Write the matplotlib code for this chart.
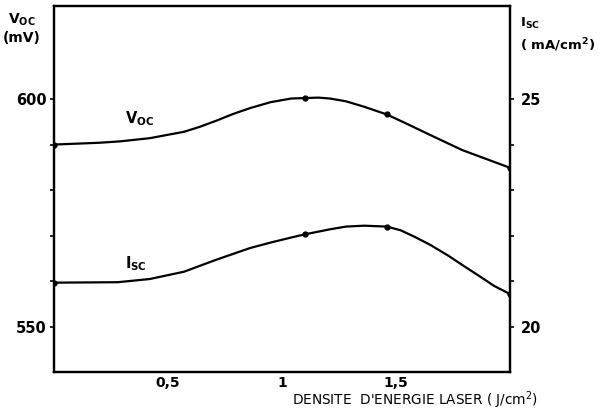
import matplotlib
matplotlib.use("Agg")
import matplotlib.pyplot as plt

# energy density (J/cm2)
voc_x = [0.0, 0.20, 0.29, 0.42, 0.57, 0.64, 0.71, 0.785, 0.86, 0.95, 1.04, 1.10, 1.16,
         1.21, 1.28, 1.36, 1.46, 1.55, 1.65, 1.79, 2.0]
voc = [590.0, 590.4, 590.7, 591.4, 592.8, 593.9, 595.2, 596.7, 598.0, 599.3, 600.1, 600.2,
       600.3, 600.1, 599.5, 598.3, 596.6, 594.5, 592.1, 588.8, 584.9]

isc_x = [0.0, 0.28, 0.42, 0.57, 0.64, 0.71, 0.785, 0.86, 0.95, 1.04, 1.10, 1.21, 1.28,
         1.36, 1.46, 1.52, 1.58, 1.65, 1.73, 1.79, 1.87, 1.93, 2.0]
isc = [20.97, 20.98, 21.05, 21.21, 21.34, 21.47, 21.60, 21.73, 21.85, 21.96, 22.03, 22.14,
       22.20, 22.22, 22.20, 22.12, 21.98, 21.80, 21.56, 21.36, 21.10, 20.90, 20.72]

# measured points (dots)
pts_x = [0.0, 1.10, 1.46, 2.0]
voc_pts = [590.0, 600.2, 596.6, 584.9]
isc_pts = [20.97, 22.03, 22.20, 20.72]

xticks = [0.5, 1.0, 1.5]
xticklabels = ["0,5", "1", "1,5"]

plt.rcParams['font.family'] = ['DejaVu Sans']
plt.rcParams['mathtext.default'] = 'regular'

fig = plt.figure(figsize=(6.1, 4.12), dpi=100)
ax = fig.add_axes([54 / 610, 40 / 412, 456 / 610, 366 / 412])
ax2 = ax.twinx()

ax.plot(voc_x, voc, color='black', lw=1.6, solid_joinstyle='round')
ax.plot(pts_x, voc_pts, 'o', color='black', ms=3.5)
ax2.plot(isc_x, isc, color='black', lw=1.6, solid_joinstyle='round')
ax2.plot(pts_x, isc_pts, 'o', color='black', ms=3.5)

ax.set_xlim(0, 2.0)
ax.set_ylim(540.1, 620.4)
ax2.set_ylim(19.01, 27.04)

ax.set_xticks(xticks)
ax.set_xticklabels(xticklabels, fontsize=10, fontweight='bold')
ax.tick_params(axis='x', length=0, pad=3)

ax.set_yticks([550, 600])
ax.set_yticklabels(["550", "600"], fontsize=10.5, fontweight='bold')
ax.set_yticks([560, 570, 580, 590], minor=True)
ax.tick_params(axis='y', which='both', direction='out', length=3, width=1.2, pad=2)

ax2.set_yticks([20, 25])
ax2.set_yticklabels(["20", "25"], fontsize=10.5, fontweight='bold')
ax2.set_yticks([21, 22, 23, 24], minor=True)
ax2.tick_params(axis='y', which='both', direction='out', length=3, width=1.2, pad=5)

for a in (ax, ax2):
    for s in a.spines.values():
        s.set_linewidth(1.6)

ax.text(0.31, 594.6, r'V$_{OC}$', fontsize=10.5, fontweight='bold')
ax.text(0.31, 562.8, r'I$_{SC}$', fontsize=10.5, fontweight='bold')

fig.text(22 / 610, 1 - 28 / 412, 'V$_{OC}$\n(mV)', fontsize=10, fontweight='bold',
         ha='center', va='center', linespacing=1.3)
fig.text(520 / 610, 1 - 35 / 412, 'I$_{SC}$\n( mA/cm$^2$)', fontsize=9.5, fontweight='bold',
         ha='left', va='center', multialignment='left', linespacing=1.4)
fig.text(292 / 610, 1 - 400 / 412, "DENSITE  D'ENERGIE LASER ( J/cm$^2$)", fontsize=9.8,
         ha='left', va='center')

fig.savefig('out.png', dpi=100)
